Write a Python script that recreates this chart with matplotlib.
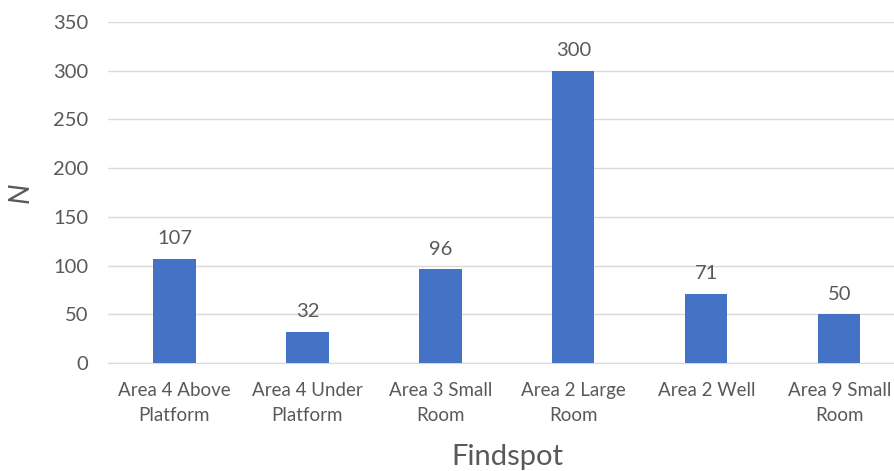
import matplotlib.pyplot as plt

plt.rcParams['font.family'] = ['Lato', 'DejaVu Sans']

# 데이터
categories = ['Area 4 Above\nPlatform', 'Area 4 Under\nPlatform', 'Area 3 Small\nRoom',
              'Area 2 Large\nRoom', 'Area 2 Well', 'Area 9 Small\nRoom']
counts = [107, 32, 96, 300, 71, 50]
yticks = [0, 50, 100, 150, 200, 250, 300, 350]

txt = '#595959'

fig = plt.figure(figsize=(8.94, 4.71), dpi=100)
ax = fig.add_axes([0.1208, 0.2293, 0.8926, 0.724])

x = range(len(categories))
ax.bar(x, counts, width=0.316, color='#4472C4', zorder=3)
for i, v in zip(x, counts):
    ax.text(i, v + 12, str(v), ha='center', va='bottom', fontsize=14.5, color=txt)

ax.set_xlim(-0.5, 5.5)
ax.set_ylim(0, 350)
ax.set_yticks(yticks)
ax.set_xticks(list(x))
ax.set_xticklabels(categories, linespacing=1.55)
ax.yaxis.grid(True, color='#D9D9D9', linewidth=1, zorder=0)
for s in ['top', 'right', 'left']:
    ax.spines[s].set_visible(False)
ax.spines['bottom'].set_color('#D9D9D9')
ax.tick_params(axis='both', length=0, colors=txt, labelsize=14.5)
ax.tick_params(axis='x', pad=14, labelsize=13.5)
ax.tick_params(axis='y', pad=14)

ax.set_ylabel('N', fontsize=21, style='italic', color=txt, labelpad=14)
ax.set_xlabel('Findspot', fontsize=21, color=txt, labelpad=14)

fig.savefig('out.png', dpi=100)
